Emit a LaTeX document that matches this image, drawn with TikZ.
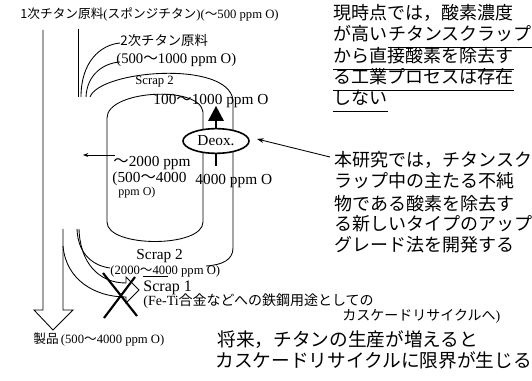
\documentclass[tikz,border=0pt]{standalone}
\usepackage{fontspec}
\setmainfont{Liberation Serif}
\newfontfamily\cjk{Noto Sans CJK JP}
\usetikzlibrary{arrows.meta,shapes.geometric}
\newcommand\J[1]{{\cjk #1}}
\newcommand\wave{\J{～}}
\newcommand\fs[1]{\fontsize{#1}{#1}\selectfont}
\begin{document}
\begin{tikzpicture}[x=0.75pt,y=-0.75pt,line width=0.65pt,
  lb/.style={anchor=west,inner sep=0pt},
  jp/.style={lb,text height=0.8em,text depth=0.2em},
  heavy/.style={line width=1.6pt},
  uline/.style={line width=0.7pt}]
\useasboundingbox (0,0) rectangle (532,381);

% main hollow arrow (product flow)
\draw (43,30) -- (43,310) -- (34,310) -- (53,330) -- (73,310) -- (63,310) -- (63,229);

% secondary raw material lines (top)
\draw (78,29) -- (78,97);
\draw (81,97) .. controls (81,62) and (100,45) .. (120,43);
\draw (86,97) .. controls (87,74) and (104,63) .. (120,62);

% outer loop
\draw (90,97) .. controls (100,70) and (228,60) .. (233,100) -- (233,248)
      .. controls (233,260) and (222,265) .. (206,266);
\draw (77,229) .. controls (78,256) and (95,266) .. (110,268);
\draw (143,276) -- (168,276);

% inner loop
\draw (107,118) .. controls (107,90) and (200,85) .. (203,112) -- (203,222)
      .. controls (203,248) and (107,248) .. (107,222) -- cycle;

% scrap 1 hollow arrow
\draw (79,229) .. controls (80,262) and (98,283) .. (126,283) -- (126,277) -- (139,290)
      -- (126,303) -- (126,297) .. controls (95,297) and (66,280) .. (63,246);
\draw[heavy] (103,273) -- (137,316);
\draw[heavy] (135,277) -- (104,318);

% Deox
\node[draw,ellipse,fill=white,line width=1.2pt,minimum width=49.5pt,minimum height=18.5pt,inner sep=0pt,font=\fs{11.5}] (deox) at (216,141) {Deox.};
\draw[heavy] (deox.north) -- ++(0,-8);
\coordinate (ah) at (216,106);
\fill (ah) -- (208,121) -- (224,121) -- cycle;
\draw[heavy] (deox.south) -- ++(0,12);

% labels left
\node[lb,font=\fs{9.5}] (title) at (20,14) {\J{1次チタン原料}(\J{スポンジチタン})(\wave500 ppm O)};
\node[jp,font=\cjk\fs{10}] (sec) at (120,42) {2次チタン原料};
\node[lb,font=\fs{11}] (secppm) at (116,60) {(500\wave1000 ppm O)};
\node[lb,font=\fs{9.5}] (s2a) at (135,82) {Scrap 2};
\node[lb,font=\fs{11.5}] (ppm1) at (153,101) {100\wave1000 ppm O};
\node[lb,font=\fs{11.5}] (ppm2) at (113,163) {\wave2000 ppm};
\node[lb,font=\fs{11.5}] (ppm3) at (112,179) {(500\wave4000};
\node[lb,font=\fs{9}] (ppm4) at (118,193) {ppm O)};
\node[lb,font=\fs{11.5}] (ppm5) at (195,181) {4000 ppm O};
\coordinate (la) at (115,155);
\coordinate (lb2) at (83,155);
\draw[-{Stealth[length=4pt,width=3pt]}] (la) -- (lb2);

\node[lb,font=\fs{11.5}] (s2b) at (136,256) {Scrap 2};
\node[lb,font=\fs{9.5}] (ppm6) at (110,271) {(2000\wave4000 ppm O)};
\node[lb,font=\fs{12}] (s1) at (143,288) {Scrap 1};
\node[lb,font=\fs{10.5}] (fe) at (143,301) {(Fe-Ti\J{合金などへの鉄鋼用途としての}};
\node[lb,font=\fs{10.5}] (cas) at (342,316) {\J{カスケードリサイクルへ})};
\node[lb,font=\fs{9.5}] (prod) at (33,340) {\J{製品}\,(500\wave4000 ppm O)};

% right block 1
\begin{scope}[every node/.style={jp,font=\cjk\fs{13.5}}]
\node (r1a) at (333,16) {現時点では，酸素濃度};
\node (r1b) at (333,37) {が高い};
\node (r1c) at (r1b.east) {チタンスクラップ};
\node (r1d) at (333,59) {から直接酸素を除去す};
\node (r1e) at (333,80) {る工業プロセスは存在};
\node (r1f) at (333,101) {しない};
\end{scope}
\foreach \n in {r1c,r1d,r1e,r1f}
  \draw[uline] ([yshift=-8pt]\n.west) -- ([yshift=-8pt]\n.east);

% right block 2
\begin{scope}[every node/.style={jp,font=\cjk\fs{13.5}}]
\node (r2a) at (334,163) {本研究では，チタンスク};
\node (r2b) at (334,184) {ラップ中の主たる不純};
\node (r2c) at (334,206) {物である酸素を除去す};
\node (r2d) at (334,227) {る新しいタイプのアップ};
\node (r2e) at (334,248) {グレード法を開発する};
\end{scope}
\coordinate (tl) at (330,157);
\coordinate (tipD) at (257,139);
\draw[-{Stealth[length=5pt,width=3.5pt]}] (tl) -- (tipD);

% bottom block
\begin{scope}[every node/.style={jp,font=\cjk\fs{14}}]
\node (b1) at (217,342) {将来，チタンの生産が増えると};
\node (b2) at (215,363) {カスケードリサイクルに限界が生じる};
\end{scope}
\end{tikzpicture}
\end{document}
